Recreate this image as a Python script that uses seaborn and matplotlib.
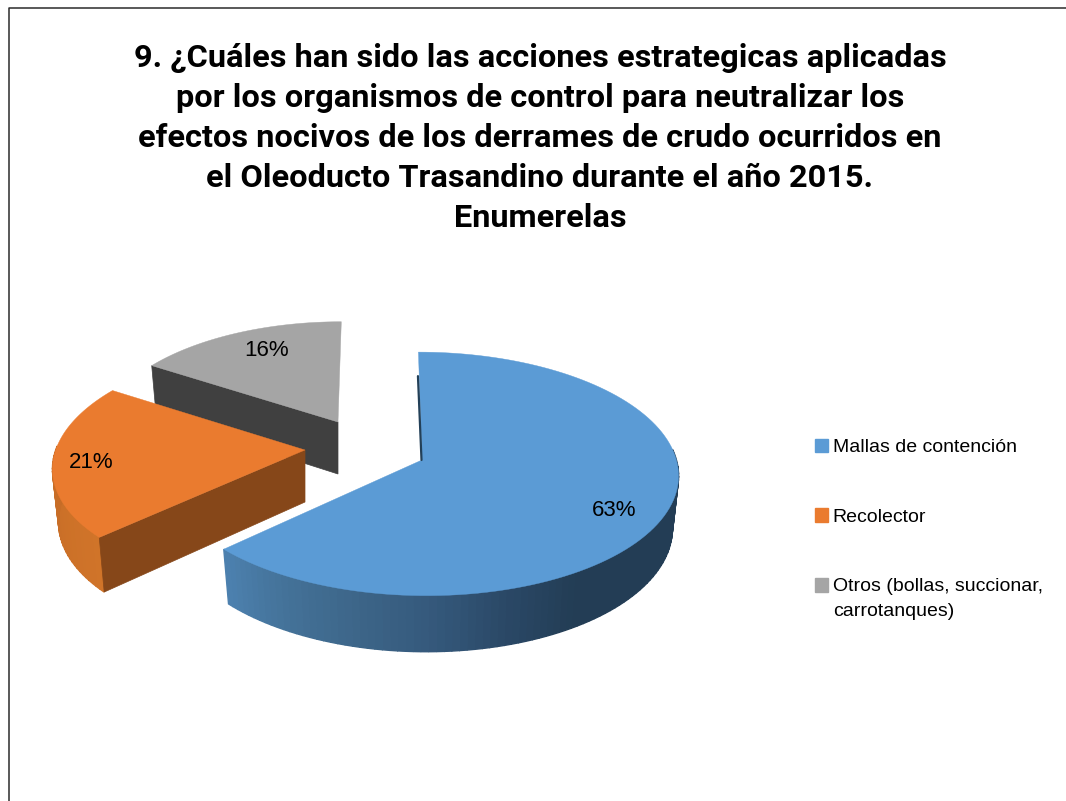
import numpy as np
import seaborn as sns
import matplotlib.pyplot as plt
from matplotlib.patches import Patch

title = ("9. ¿Cuáles han sido las acciones estrategicas aplicadas\n"
         "por los organismos de control para neutralizar los\n"
         "efectos nocivos de los derrames de crudo ocurridos en\n"
         "el Oleoducto Trasandino durante el año 2015.\n"
         "Enumerelas")
categories = ["Mallas de contención", "Recolector",
              "Otros (bollas, succionar,\ncarrotanques)"]
values = [63, 21, 16]
colors = ["#5b9bd5", "#ea7b2f", "#a5a5a5"]

# drawing setup of each slice, in pixels of the page
apex = [(422, 460), (305, 450), (338, 422)]
scale = [0.99, 0.97, 0.92]
lean = [-4, 12, 4]
label_angle = [118, 264.6, 335]
label_radius = [0.81, 0.85, 0.8]

RX, RY, PERSP = 257.0, 121.4, 0.114
DEPTH = 52

sns.set_theme(style="white")
plt.rcParams["font.family"] = ["Liberation Sans", "DejaVu Sans"]


def project(i, t, r=1.0):
    t = np.radians(t)
    x_u, y_u = r * np.sin(t), r * np.cos(t)
    s = scale[i] / (1 + PERSP * y_u)
    return apex[i][0] + (RX * x_u + lean[i] * y_u) * s, apex[i][1] - RY * y_u * s


def lower(i, x, y):
    # bottom rim of the slice, pulled in a little by the perspective
    return apex[i][0] + (x - apex[i][0]) * 0.976, apex[i][1] + DEPTH + (y - apex[i][1]) * 1.03


def draw_side(ax, i, t0, t1, pal):
    ts = np.linspace(t0, t1, len(pal) + 1)
    for k, col in enumerate(pal):
        tt = np.linspace(ts[k], ts[k + 1], 4)
        x, y = project(i, tt)
        xb, yb = lower(i, x, y)
        ax.fill(np.r_[x, xb[::-1]], np.r_[y, yb[::-1]], color=col, lw=1.0)


def draw_cut(ax, i, t, col):
    x, y = project(i, t)
    xb, yb = lower(i, x, y)
    ax.fill([apex[i][0], x, xb, apex[i][0]],
            [apex[i][1], y, yb, apex[i][1] + DEPTH], color=col, lw=0.5)


def draw_top(ax, i, t0, t1):
    x, y = project(i, np.linspace(t0, t1, 120))
    ax.fill(np.r_[apex[i][0], x], np.r_[apex[i][1], y], color=colors[i], lw=0.3)


fig, ax = plt.subplots(figsize=(10.66, 8.01), dpi=100)
fig.subplots_adjust(0, 0, 1, 1)
ax.set_xlim(0, 1066)
ax.set_ylim(801, 0)
ax.axis("off")

# page border, only the left and top can be seen
ax.plot([9, 9, 1066], [801, 8, 8], color="#2b2b2b", lw=1.1)

edges = np.r_[0, np.cumsum(values)] / np.sum(values) * 360

# grey first, it sits behind the others
draw_cut(ax, 2, edges[2], "#404040")
draw_top(ax, 2, edges[2], edges[3])

draw_side(ax, 1, edges[1], 272, sns.blend_palette(["#d07429", "#c66c27"], 30))
draw_cut(ax, 1, edges[1], "#864719")
draw_top(ax, 1, edges[1], edges[2])

ax_x, ax_y = project(0, 0)
ax.plot([apex[0][0] - 0.5, ax_x - 0.5], [apex[0][1], ax_y + 24], color="#234058", lw=1.6)
side_pal = sns.blend_palette(["#233d55", "#233d55", "#233d55", "#233d55", "#233d55",
                              "#2a4866", "#35597c", "#3d6689", "#447299", "#4c80ae"], 90)
draw_side(ax, 0, 85, edges[1], side_pal)
draw_top(ax, 0, edges[0], edges[1])

for i, v in enumerate(values):
    lx, ly = project(i, label_angle[i], label_radius[i])
    ax.text(lx, ly + 3, f"{v}%", ha="center", va="center", fontsize=16, color="black")

ax.text(540, 138, title, ha="center", va="center", fontsize=23.4, fontweight="bold",
        family=["Roboto", "Liberation Sans"], color="black", linespacing=1.42)

handles = [Patch(color=c, label=n) for c, n in zip(colors, categories)]
leg = ax.legend(handles=handles, loc="upper left", bbox_to_anchor=(0.7645, 0.4525), frameon=False,
                fontsize=14, labelcolor="black", labelspacing=2.7, handlelength=0.67,
                handleheight=0.67, handletextpad=0.25, borderpad=0, borderaxespad=0)
leg.get_texts()[2].set_linespacing(1.6)
# the square of the two line entry stays on its first line
h = leg.legend_handles[2]
h.set_y(h.get_y() + 10)

plt.savefig("out.png", dpi=100)
